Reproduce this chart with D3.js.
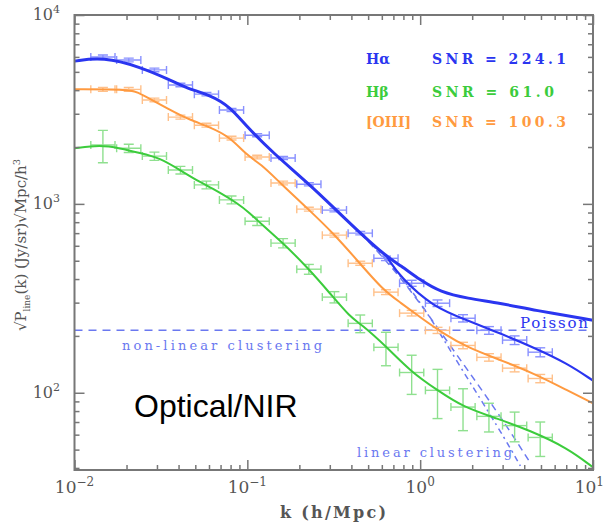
<!DOCTYPE html>
<html>
<head>
<meta charset="utf-8">
<script src="https://cdn.jsdelivr.net/npm/d3@7"></script>
<style>
  html, body { margin: 0; padding: 0; background: #fff; }
  svg { display: block; }
</style>
</head>
<body>
<svg id="chart" width="605" height="523"></svg>
<script>
// ---- data -------------------------------------------------------------
// band-power bin centres, k in h/Mpc
const kBins = [0.0146, 0.0206, 0.029, 0.041, 0.058, 0.081, 0.114, 0.161, 0.227,
               0.319, 0.45, 0.634, 0.893, 1.26, 1.77, 2.5, 3.52, 4.95];

// measured sqrt(P_line) per bin, with 1-sigma errors
const haPoints = [5990, 5780, 5120, 4260, 3810, 3140, 2310, 1750, 1270,
                  927, 700, 515, 380, 298, 248, 214, 190, 164];
const haErr    = [150, 130, 110, 90, 80, 60, 45, 35, 25,
                  20, 15, 14, 14, 12, 11, 10, 10, 9];
const hbPoints = [2050, 1970, 1790, 1510, 1260, 1050, 809, 620, 451,
                  321, 233, 174, 128, 103, 84, 75, 67, 58];
const hbErr    = [400, 100, 90, 70, 60, 50, 40, 35, 27,
                  22, 25, 35, 30, 30, 21, 13, 12, 12];
const o3Points = [4040, 4040, 3550, 2880, 2610, 2230, 1770, 1290, 938,
                  683, 485, 341, 264, 214, 178, 154, 135, 119];
const o3Err    = [100, 90, 80, 70, 60, 50, 40, 30, 22,
                  16, 12, 10, 9, 8, 7, 7, 6, 6];

// model curves
const haTotalK = [0.01, 0.0146, 0.0239, 0.0357, 0.0447, 0.0609, 0.0795, 0.0993, 0.141,
                  0.222, 0.314, 0.45, 0.644, 0.767, 1.0, 1.31, 1.87, 2.91, 4.52, 10];
const haTotalP = [5700, 5990, 5320, 4530, 4090, 3770, 3270, 2560, 1860,
                  1300, 961, 700, 522, 474, 395, 341, 316, 298, 274, 242];
const haClusK  = [0.644, 0.767, 1.19, 1.87, 2.91, 4.52, 7.11, 10];
const haClusP  = [522, 409, 284, 242, 206, 174, 143, 116];
const o3K = [0.01, 0.0209, 0.0239, 0.0357, 0.0466, 0.0609, 0.0795, 0.0997, 0.1186, 0.155,
             0.222, 0.314, 0.432, 0.611, 0.767, 1.0, 1.36, 1.87, 2.91, 4.52, 7.11, 10];
const o3P = [4040, 4040, 3860, 3140, 2780, 2550, 2260, 1800, 1640, 1290,
             949, 700, 503, 349, 301, 251, 206, 174, 149, 127, 103, 88];
const hbK = [0.01, 0.0141, 0.0183, 0.0239, 0.0312, 0.0408, 0.0533, 0.0696, 0.0872, 0.1038,
             0.1186, 0.161, 0.222, 0.301, 0.394, 0.45, 0.644, 0.877, 1.26, 1.77, 2.79,
             4.34, 7.11, 10];
const hbP = [1970, 2050, 1970, 1860, 1750, 1510, 1300, 1150, 1010, 893,
             791, 620, 462, 336, 251, 233, 174, 130, 103, 84, 73,
             63, 51, 40.3];

// reference levels for the H-alpha line
const poissonLevel = 214;
const linearK = [0.45, 0.634, 1.0, 1.67, 2.91, 3.8];
const linearP = [700, 515, 309, 141, 63, 41];
const nonlinK = [0.45, 0.767, 1.49, 2.91, 4.34];
const nonlinP = [700, 419, 178, 75.4, 42.5];

// tick labels
const xTickVals = [0.01, 0.1, 1, 10];
const xTickExp  = ["-2", "-1", "0", "1"];
const yTickVals = [100, 1000, 10000];
const yTickExp  = ["2", "3", "4"];

const legendLines = [
  { name: "H\u03b1",   snr: "SNR = 224.1", color: "#2a35f0" },
  { name: "H\u03b2",   snr: "SNR = 61.0",  color: "#3ccc3c" },
  { name: "[OIII]",    snr: "SNR = 100.3", color: "#ff9a40" }
];

// ---- layout -----------------------------------------------------------
const svg = d3.select("#chart");
const pL = 74.5, pR = 593, pT = 15, pB = 470;

const x = d3.scaleLog().domain([0.01, 10]).range([pL, pR]);
const y = d3.scaleLog().domain([39, 10000]).range([pB, pT]);

const blue = "#2a35f0", blueLight = "#8890ff", blueDash = "#6a78f0";
const orange = "#ff9a40", orangeLight = "#ffc08a";
const green = "#3ccc3c", greenLight = "#8fe08f";
const frame = "#777";
const serif = "'DejaVu Serif', 'Liberation Serif', serif";

const plot = svg.append("g");
plot.append("clipPath").attr("id", "clip")
  .append("rect").attr("x", pL).attr("y", pT)
  .attr("width", pR - pL).attr("height", pB - pT);
const area = plot.append("g").attr("clip-path", "url(#clip)");

const line = d3.line().x(d => x(d[0])).y(d => y(d[1])).curve(d3.curveBasis);
const zip = (a, b) => a.map((v, i) => [v, b[i]]);

// reference lines
area.append("line")
  .attr("x1", pL).attr("x2", pR)
  .attr("y1", y(poissonLevel)).attr("y2", y(poissonLevel))
  .attr("stroke", blueDash).attr("stroke-width", 1.5)
  .attr("stroke-dasharray", "8,6");
area.append("path").datum(zip(nonlinK, nonlinP)).attr("d", line)
  .attr("fill", "none").attr("stroke", blueDash).attr("stroke-width", 1.5)
  .attr("stroke-dasharray", "7,5");
area.append("path").datum(zip(linearK, linearP)).attr("d", line)
  .attr("fill", "none").attr("stroke", blueDash).attr("stroke-width", 1.5)
  .attr("stroke-dasharray", "6,4,2,4");

// error crosses
const halfBin = Math.pow(10, 0.07);
function crosses(vals, errs, color) {
  const g = area.append("g").attr("stroke", color).attr("stroke-width", 1.4).attr("fill", "none");
  kBins.forEach((k, i) => {
    const cx = x(k), cy = y(vals[i]);
    const x0 = x(k / halfBin), x1 = x(k * halfBin);
    const y0 = y(vals[i] + errs[i]), y1 = y(Math.max(vals[i] - errs[i], 1));
    g.append("line").attr("x1", x0).attr("x2", x1).attr("y1", cy).attr("y2", cy);
    g.append("line").attr("x1", x0).attr("x2", x0).attr("y1", cy - 4).attr("y2", cy + 4);
    g.append("line").attr("x1", x1).attr("x2", x1).attr("y1", cy - 4).attr("y2", cy + 4);
    g.append("line").attr("x1", cx).attr("x2", cx).attr("y1", y0).attr("y2", y1);
    g.append("line").attr("x1", cx - 5).attr("x2", cx + 5).attr("y1", y0).attr("y2", y0);
    g.append("line").attr("x1", cx - 5).attr("x2", cx + 5).attr("y1", y1).attr("y2", y1);
  });
}
crosses(hbPoints, hbErr, greenLight);
crosses(o3Points, o3Err, orangeLight);
crosses(haPoints, haErr, blueLight);

// model curves
area.append("path").datum(zip(hbK, hbP)).attr("d", line)
  .attr("fill", "none").attr("stroke", green).attr("stroke-width", 2);
area.append("path").datum(zip(o3K, o3P)).attr("d", line)
  .attr("fill", "none").attr("stroke", orange).attr("stroke-width", 2);
area.append("path").datum(zip(haClusK, haClusP)).attr("d", line)
  .attr("fill", "none").attr("stroke", blue).attr("stroke-width", 2.2);
area.append("path").datum(zip(haTotalK, haTotalP)).attr("d", line)
  .attr("fill", "none").attr("stroke", blue).attr("stroke-width", 3);

// ---- axes frame -------------------------------------------------------
const axG = svg.append("g");
const minorX = [];
[0.01, 0.1, 1].forEach(d => { for (let m = 2; m <= 9; m++) minorX.push(d * m); });
const minorY = [];
[10, 100, 1000].forEach(d => { for (let m = 2; m <= 9; m++) if (d * m >= 39) minorY.push(d * m); });

function tickAxis(axisFn, scale, vals, size, tr) {
  const a = axisFn(scale).tickValues(vals).tickSize(size).tickFormat("");
  const g = axG.append("g").attr("transform", tr).call(a);
  g.select(".domain").remove();
  g.selectAll(".tick line").attr("stroke", frame).attr("stroke-width", 1.5);
}
// inward ticks on all four sides
tickAxis(d3.axisTop, x, xTickVals, 10, `translate(0,${pB})`);
tickAxis(d3.axisTop, x, minorX, 5, `translate(0,${pB})`);
tickAxis(d3.axisBottom, x, xTickVals, 10, `translate(0,${pT})`);
tickAxis(d3.axisBottom, x, minorX, 5, `translate(0,${pT})`);
tickAxis(d3.axisRight, y, yTickVals, 10, `translate(${pL},0)`);
tickAxis(d3.axisRight, y, minorY, 5, `translate(${pL},0)`);
tickAxis(d3.axisLeft, y, yTickVals, 10, `translate(${pR},0)`);
tickAxis(d3.axisLeft, y, minorY, 5, `translate(${pR},0)`);

axG.append("rect").attr("x", pL).attr("y", pT)
  .attr("width", pR - pL).attr("height", pB - pT)
  .attr("fill", "none").attr("stroke", frame).attr("stroke-width", 2);

// tick labels as powers of ten
xTickVals.forEach((v, i) => {
  const last = i === xTickVals.length - 1;
  const t = axG.append("text").attr("x", last ? 604 : x(v)).attr("y", 493)
    .attr("text-anchor", last ? "end" : "middle").attr("font-family", serif)
    .attr("font-size", 17).attr("fill", "#555");
  t.append("tspan").text("10");
  t.append("tspan").attr("dy", -7).attr("font-size", 12).text(xTickExp[i].replace("-", "\u2212"));
});
yTickVals.forEach((v, i) => {
  const t = axG.append("text").attr("x", 60).attr("y", y(v) + 5)
    .attr("text-anchor", "end").attr("font-family", serif)
    .attr("font-size", 16).attr("fill", "#555");
  t.append("tspan").text("10");
  t.append("tspan").attr("dy", -7).attr("font-size", 11).text(yTickExp[i]);
});

// axis titles
axG.append("text").attr("x", 280).attr("y", 518)
  .attr("font-family", serif).attr("textLength", 106).attr("lengthAdjust", "spacing")
  .attr("font-size", 16).attr("font-weight", "bold").attr("fill", "#555").text("k (h/Mpc)");

const yt = axG.append("text")
  .attr("transform", "translate(26,245) rotate(-90)")
  .attr("text-anchor", "middle").attr("font-family", serif)
  .attr("font-size", 15).attr("fill", "#555");
yt.append("tspan").text("\u221aP");
yt.append("tspan").attr("dy", 4).attr("font-size", 9).text("line");
yt.append("tspan").attr("dy", -4).text("(k) (Jy/sr)\u221aMpc/h");
yt.append("tspan").attr("dy", -6).attr("font-size", 10).text("3");

// ---- annotations ------------------------------------------------------
const ann = svg.append("g").attr("font-family", serif);
const snrLen = [134, 122, 134];
legendLines.forEach((d, i) => {
  const yy = [64, 97, 127][i];
  ann.append("text").attr("x", 366).attr("y", yy).attr("font-size", 14)
    .attr("font-weight", "bold").attr("fill", d.color).text(d.name);
  ann.append("text").attr("x", 432).attr("y", yy).attr("font-size", 14)
    .attr("font-weight", "bold")
    .attr("textLength", snrLen[i]).attr("lengthAdjust", "spacing")
    .attr("fill", d.color).text(d.snr);
});
ann.append("text").attr("x", 520).attr("y", 328)
  .attr("textLength", 68).attr("lengthAdjust", "spacing")
  .attr("font-size", 15).attr("fill", blue).text("Poisson");
ann.append("text").attr("x", 122).attr("y", 350).attr("font-size", 13)
  .attr("textLength", 200).attr("lengthAdjust", "spacing")
  .attr("fill", blueDash).text("non-linear clustering");
ann.append("text").attr("x", 357).attr("y", 457).attr("font-size", 13)
  .attr("textLength", 155).attr("lengthAdjust", "spacing")
  .attr("fill", blueDash).text("linear clustering");

svg.append("text").attr("x", 134).attr("y", 417)
  .attr("font-family", "'Liberation Sans', Arial, sans-serif")
  .attr("font-size", 32).attr("fill", "#000").text("Optical/NIR");
</script>
</body>
</html>
